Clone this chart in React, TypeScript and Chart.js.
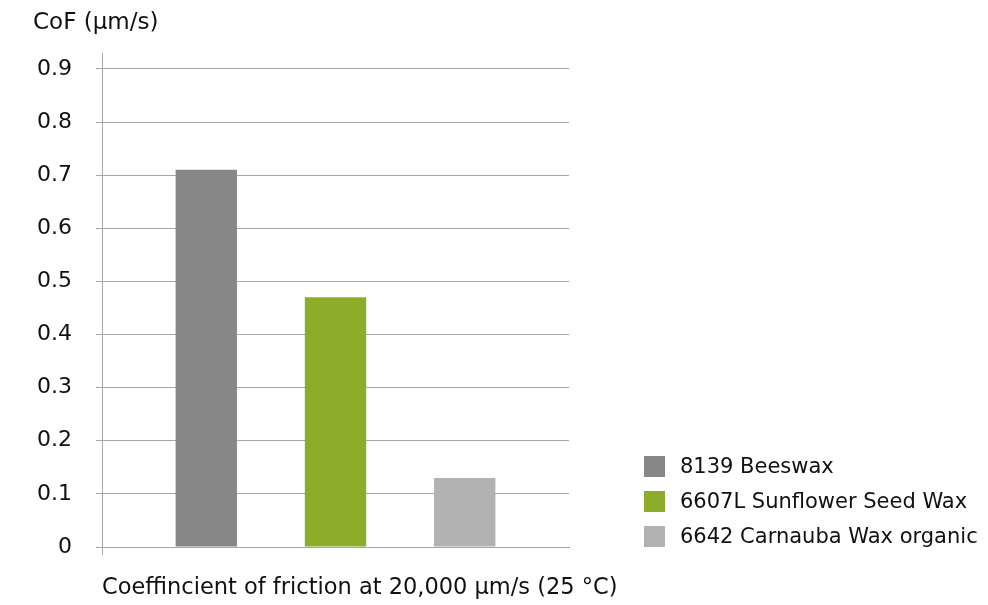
import React, { useEffect, useRef } from "react";
import { Chart, registerables } from "chart.js";

Chart.register(...registerables);

// ---- data ----
const categories = [""];
const seriesNames = ["8139 Beeswax", "6607L Sunflower Seed Wax", "6642 Carnauba Wax organic"];
const beeswax = [0.71];
const sunflower = [0.47];
const carnauba = [0.13];
const seriesColors = ["#878787", "#8cac2a", "#b2b2b2"];
const yTickLabels = ["0", "0.1", "0.2", "0.3", "0.4", "0.5", "0.6", "0.7", "0.8", "0.9"];
const yTitle = "CoF (µm/s)";
const xTitle = "Coeffincient of friction at 20,000 µm/s (25 °C)";

const FONT = '"DejaVu Sans", sans-serif';
const TEXT = "#111111";
const GRID = "#a6a6a6";

const sideLegend = {
  id: "sideLegend",
  afterDraw(chart: any) {
    const { ctx, chartArea } = chart;
    const ds = chart.data.datasets;
    const n = ds.length;
    const box = 21;
    const pitch = 35;
    const x = 644;
    ctx.save();
    ctx.font = `21px ${FONT}`;
    ctx.textBaseline = "middle";
    ctx.textAlign = "left";
    ds.forEach((d: any, i: number) => {
      const top = chartArea.bottom - box - (n - 1 - i) * pitch;
      ctx.fillStyle = d.backgroundColor;
      ctx.fillRect(x, top, box, box);
      ctx.fillStyle = TEXT;
      ctx.fillText(d.label, x + 36, top + box / 2 + 1);
    });
    // x-axis title, drawn without width compression
    ctx.font = `22.5px ${FONT}`;
    ctx.fillStyle = TEXT;
    ctx.textBaseline = "middle";
    ctx.textAlign = "left";
    ctx.fillText(xTitle, chartArea.left, chartArea.bottom + 41);
    ctx.restore();
  },
};

export default function App() {
  const ref = useRef<HTMLCanvasElement | null>(null);

  useEffect(() => {
    if (!ref.current) return;
    const values = [beeswax, sunflower, carnauba];
    const chart = new Chart(ref.current, {
      type: "bar",
      data: {
        labels: categories,
        datasets: seriesNames.map((name, i) => ({
          label: name,
          data: values[i],
          backgroundColor: seriesColors[i],
          borderWidth: 0,
          barPercentage: 0.475,
          categoryPercentage: 0.83,
        })),
      },
      options: {
        responsive: false,
        animation: false,
        devicePixelRatio: 1,
        layout: { padding: { left: 33, right: 419, top: 0, bottom: 50 } },
        plugins: {
          legend: { display: false },
          tooltip: { enabled: false },
          title: {
            display: true,
            text: yTitle,
            align: "start",
            color: TEXT,
            font: { family: FONT, size: 23, weight: "normal" },
            padding: { top: 9, bottom: 16.4 },
          },
        },
        scales: {
          x: {
            ticks: { display: false },
            grid: {
              drawOnChartArea: false,
              drawTicks: true,
              tickLength: 8,
              color: (c: any) => (c.index === 0 ? GRID : "rgba(0,0,0,0)"),
            },
            border: { color: GRID, width: 1 },
            title: { display: false },
          },
          y: {
            min: 0,
            max: 0.93,
            afterBuildTicks: (s: any) => {
              s.ticks = yTickLabels.map((t) => ({ value: parseFloat(t) }));
            },
            afterFit: (s: any) => {
              s.width = 69;
            },
            ticks: {
              padding: 24,
              color: TEXT,
              font: { family: FONT, size: 22 },
              callback: (_v: any, i: number) => yTickLabels[i],
            },
            grid: { color: GRID, lineWidth: 1, tickLength: 6, drawTicks: true },
            border: { color: GRID, width: 1 },
          },
        },
      },
      plugins: [sideLegend],
    });
    return () => chart.destroy();
  }, []);

  return (
    <div style={{ position: "fixed", left: 0, top: 0, width: 988, height: 605, background: "#fff" }}>
      <canvas ref={ref} width={988} height={605} />
    </div>
  );
}
